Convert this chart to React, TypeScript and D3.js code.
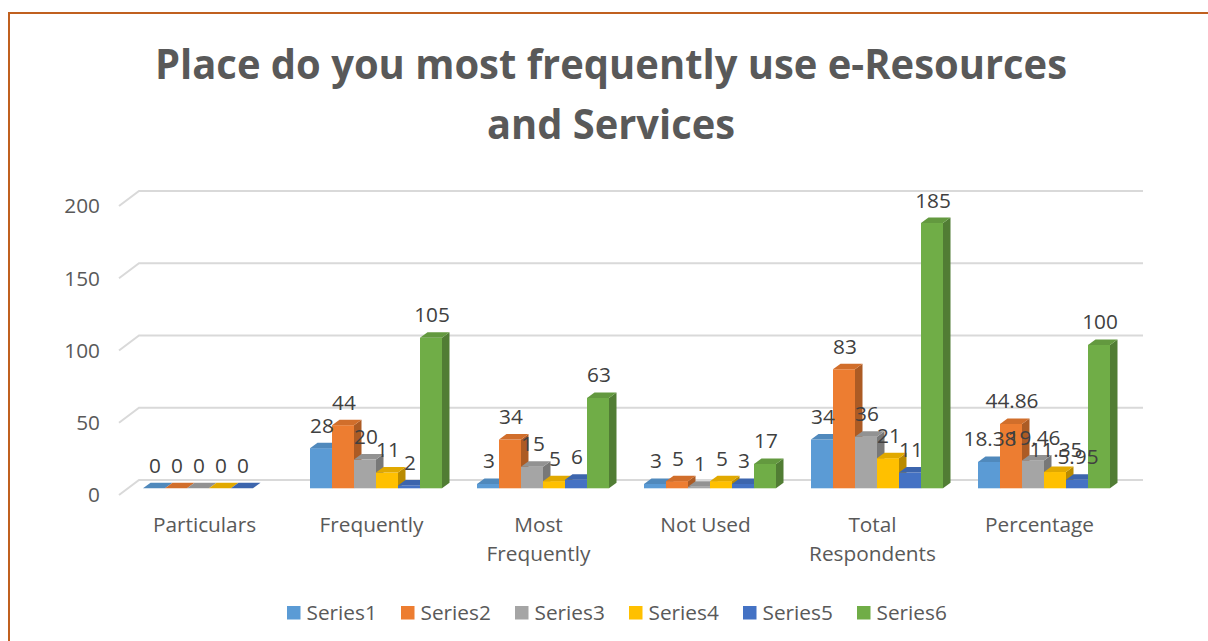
import React from "react";
import * as d3 from "d3";

const categories = ["Particulars", "Frequently", "Most Frequently", "Not Used", "Total Respondents", "Percentage"];
const categoryLines = [["Particulars"], ["Frequently"], ["Most", "Frequently"], ["Not Used"], ["Total", "Respondents"], ["Percentage"]];
const seriesNames = ["Series1", "Series2", "Series3", "Series4", "Series5", "Series6"];
const series1 = [0, 28, 3, 3, 34, 18.38];
const series2 = [0, 44, 34, 5, 83, 44.86];
const series3 = [0, 20, 15, 1, 36, 19.46];
const series4 = [0, 11, 5, 5, 21, 11.35];
const series5 = [0, 2, 6, 3, 11, 5.95];
const series6: (number | null)[] = [null, 105, 63, 17, 185, 100];
const seriesValues = [series1, series2, series3, series4, series5, series6];
const yTicks = [0, 50, 100, 150, 200];
const colors = ["#5b9bd5", "#ed7d31", "#a5a5a5", "#ffc000", "#4472c4", "#70ad47"];

const W = 1208;
const H = 641;
const FONT = "'Open Sans', 'Noto Sans', sans-serif";
const FS = 20.8;

export default function App() {
  const depthDX = 20;
  const depthDY = -15;
  const yFront = d3.scaleLinear().domain([0, 200]).range([495, 206]);
  const x = d3.scaleBand<string>().domain(categories).range([121, 1123]);
  const groupW = 132;
  const inner = d3.scaleBand<string>().domain(seriesNames).range([0, groupW]);
  const barDepthShift = 4.5;
  const yBar = d3.scaleLinear().domain([0, 200]).range([488.3, 201.5]);
  const topDX = 7.5;
  const topDY = -5.5;
  const gridRight = 1143;

  const bars: React.ReactNode[] = [];
  const labels: React.ReactNode[] = [];
  categories.forEach((cat, ci) => {
    seriesValues.forEach((vals, si) => {
      const v = vals[ci];
      if (v === null || v === undefined) return;
      const x0 = (x(cat) as number) + (x.bandwidth() - groupW) / 2 + barDepthShift + (inner(seriesNames[si]) as number);
      const w = inner.bandwidth();
      const yb = yBar(0);
      const yt = yBar(v);
      const base = d3.color(colors[si])!;
      const topC = base.darker(0.35).formatHex();
      const sideC = base.darker(0.9).formatHex();
      bars.push(
        <g key={`b-${ci}-${si}`}>
          {v > 0 && (
            <path
              d={`M${x0 + w},${yb} L${x0 + w + topDX},${yb + topDY} L${x0 + w + topDX},${yt + topDY} L${x0 + w},${yt} Z`}
              fill={sideC}
            />
          )}
          {v > 0 && <rect x={x0} y={yt} width={w} height={yb - yt} fill={colors[si]} />}
          <path
            d={`M${x0},${yt} L${x0 + topDX},${yt + topDY} L${x0 + w + topDX},${yt + topDY} L${x0 + w},${yt} Z`}
            fill={topC}
          />
        </g>
      );
      labels.push(
        <text
          key={`l-${ci}-${si}`}
          x={x0 + w / 2 + 1}
          y={yt - 15.5}
          textAnchor="middle"
          fontSize={FS}
          fill="#404040"
          fontFamily={FONT}
        >
          {String(v)}
        </text>
      );
    });
  });

  return (
    <svg width={W} height={H} style={{ position: "absolute", left: 0, top: 0 }}>
      <rect x={0} y={0} width={W} height={H} fill="#ffffff" />
      <rect x={9} y={13} width={W + 100} height={H + 100} fill="none" stroke="#c0601f" strokeWidth={2} />
      <text x={611} y={79} textAnchor="middle" fontSize={41} fontWeight={700} fill="#595959" fontFamily={FONT} textLength={912} lengthAdjust="spacingAndGlyphs">
        Place do you most frequently use e-Resources
      </text>
      <text x={611} y={139} textAnchor="middle" fontSize={41} fontWeight={700} fill="#595959" fontFamily={FONT} textLength={248} lengthAdjust="spacingAndGlyphs">
        and Services
      </text>
      {yTicks.map((t) => {
        const yf = yFront(t);
        const x0 = 119;
        return (
          <g key={`g-${t}`}>
            <path
              d={`M${x0},${yf} L${x0 + depthDX},${yf + depthDY} L${gridRight},${yf + depthDY}`}
              fill="none"
              stroke="#d9d9d9"
              strokeWidth={2}
            />
            <text x={100} y={yf} dy="0.35em" textAnchor="end" fontSize={FS} fill="#595959" fontFamily={FONT}>
              {t}
            </text>
          </g>
        );
      })}
      {bars}
      {labels}
      {categories.map((cat, ci) => (
        <text
          key={`c-${ci}`}
          x={(x(cat) as number) + x.bandwidth() / 2}
          y={532}
          textAnchor="middle"
          fontSize={FS}
          fill="#595959"
          fontFamily={FONT}
        >
          {categoryLines[ci].map((ln, li) => (
            <tspan key={li} x={(x(cat) as number) + x.bandwidth() / 2} dy={li === 0 ? 0 : 29}>
              {ln}
            </tspan>
          ))}
        </text>
      ))}
      {seriesNames.map((s, si) => {
        const lx = 287 + si * 114;
        return (
          <g key={`lg-${si}`}>
            <rect x={lx} y={606} width={13.5} height={13.5} fill={colors[si]} />
            <text x={lx + 19.5} y={620} fontSize={FS} fill="#595959" fontFamily={FONT}>
              {s}
            </text>
          </g>
        );
      })}
    </svg>
  );
}
